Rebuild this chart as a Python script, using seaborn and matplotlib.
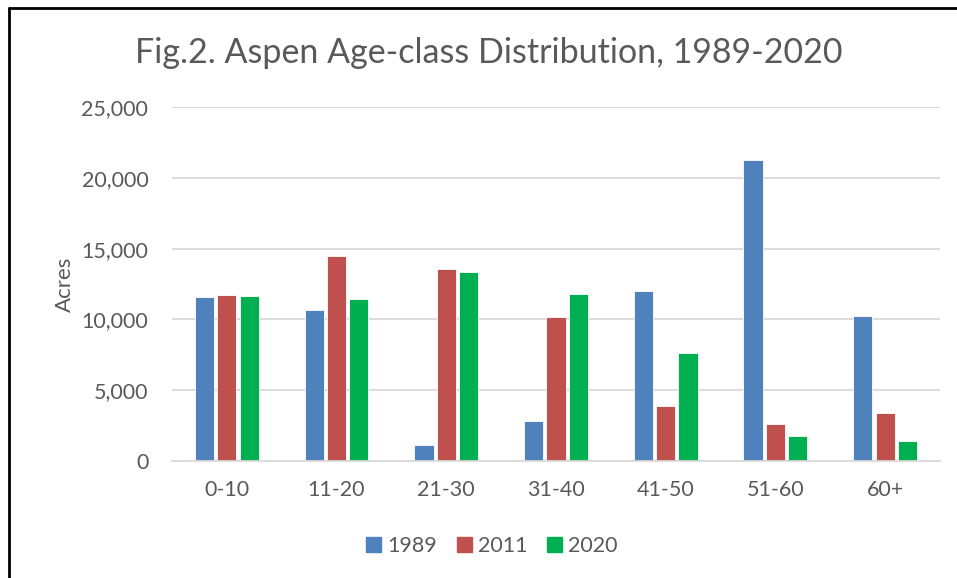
import pandas as pd
import numpy as np
import matplotlib
matplotlib.use('Agg')
import matplotlib.pyplot as plt
import seaborn as sns
from matplotlib.ticker import FuncFormatter
from matplotlib.lines import Line2D

# ### Aspen age-class data (acres)

age_classes = ['0-10', '11-20', '21-30', '31-40', '41-50', '51-60', '60+']
acres_1989 = [11560, 10660, 1150, 2850, 12000, 21240, 10240]
acres_2011 = [11700, 14460, 13540, 10150, 3880, 2590, 3370]
acres_2020 = [11650, 11440, 13370, 11800, 7650, 1790, 1390]
years = ['1989', '2011', '2020']

df = pd.DataFrame({'Age': age_classes * 3,
                   'Year': np.repeat(years, len(age_classes)),
                   'Acres': acres_1989 + acres_2011 + acres_2020})

sns.set_theme(style='white')
plt.rcParams['font.family'] = ['Lato', 'DejaVu Sans']
grey = '#595959'
colors = ['#4F81BD', '#C0504D', '#00B050']

fig = plt.figure(figsize=(9.57, 5.78), dpi=100)
ax = fig.add_axes([0.1797, 0.2024, 0.8025, 0.6125])

sns.barplot(data=df, x='Age', y='Acres', hue='Year', palette=colors, saturation=1,
            width=0.61, gap=0.14, ax=ax, edgecolor='white', linewidth=0.6)

ax.set_ylim(0, 25000)
ax.set_yticks(range(0, 25001, 5000))
ax.yaxis.set_major_formatter(FuncFormatter(lambda v, p: '{:,.0f}'.format(v)))
ax.grid(axis='y', color='#d9d9d9', linewidth=1.3)
ax.set_axisbelow(True)
for s in ['top', 'right', 'left']:
    ax.spines[s].set_visible(False)
ax.spines['bottom'].set_color('#d9d9d9')
ax.spines['bottom'].set_linewidth(1.3)
ax.tick_params(axis='both', length=0, labelsize=15.5, labelcolor=grey)
ax.tick_params(axis='y', pad=17)
ax.tick_params(axis='x', pad=14)
ax.set_xlabel('')
ax.set_ylabel('Acres', fontsize=16, color=grey, labelpad=5)

ax.legend_.remove()
handles = [plt.Rectangle((0, 0), 1, 1, color=c) for c in colors]
fig.legend(handles, years, loc='center', bbox_to_anchor=(0.514, 0.056), ncol=3,
           frameon=False, fontsize=15.5, labelcolor=grey, handlelength=0.7,
           handleheight=0.7, handletextpad=0.3, columnspacing=0.9)

fig.text(0.511, 0.908, 'Fig.2. Aspen Age-class Distribution, 1989-2020',
         ha='center', va='center', fontsize=24.5, color=grey)

# border lines seen at the top and left edge of the screenshot
fig.add_artist(Line2D([9 / 957, 9 / 957], [0, 1 - 8 / 578], color='black', linewidth=2))
fig.add_artist(Line2D([9 / 957, 1], [1 - 8 / 578, 1 - 8 / 578], color='black', linewidth=2))

plt.savefig('out.png', dpi=100)
